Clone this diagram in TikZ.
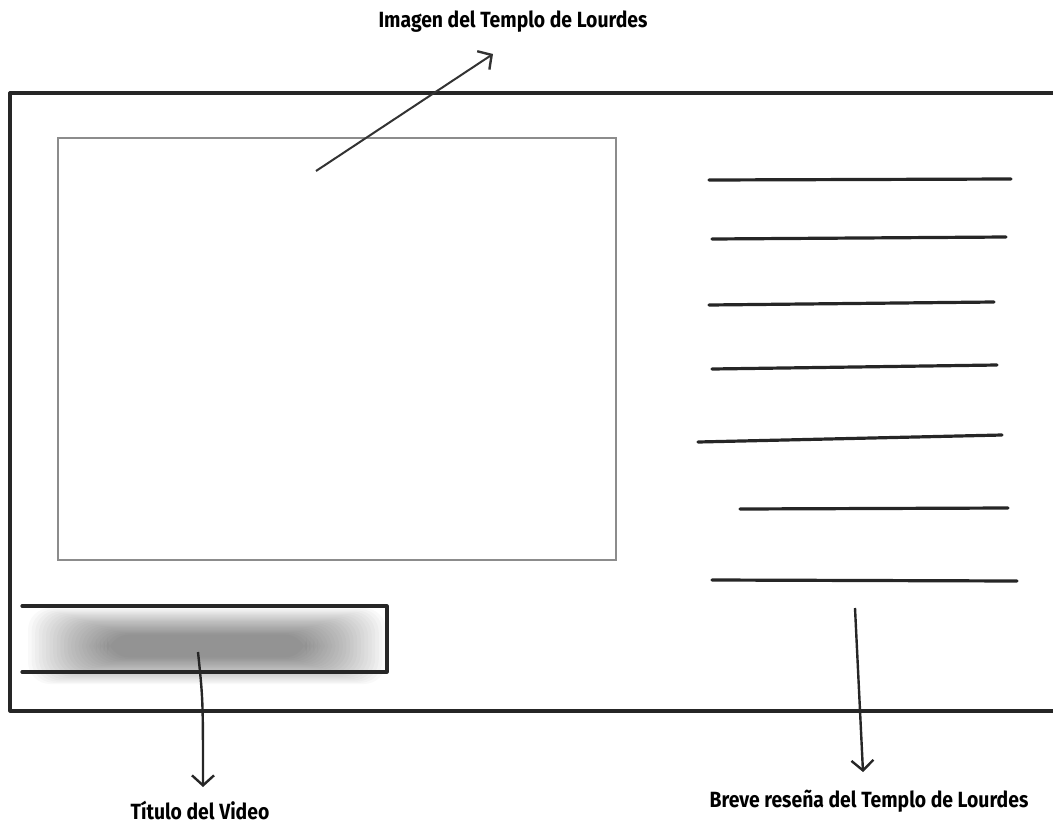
\documentclass[tikz,border=0pt]{standalone}
\usepackage{fontspec}
\setmainfont{Fira Sans}[FakeStretch=0.88]
\usetikzlibrary{arrows.meta}
\begin{document}
\begin{tikzpicture}[x=1pt,y=-1pt,
  frame/.style={line width=3.2pt,black!85,line cap=round,line join=round},
  textline/.style={line width=3.2pt,black!85,line cap=round},
  imgbox/.style={draw=black!45,line width=1.5pt},
  callout/.style={line width=2.4pt,black!85,-{Straight Barb[length=10pt,width=22pt,line width=2.4pt]}},
  lbl/.style={font=\bfseries\fontsize{22}{26}\selectfont,inner sep=0pt,anchor=base}]
\useasboundingbox (0,0) rectangle (1053,825);
% outer frame (open on the right)
\draw[frame] (1053,93) -- (10,93) -- (10,711) -- (1053,711);
% image placeholder
\node[imgbox,minimum width=558pt,minimum height=422pt,inner sep=0pt,anchor=north west] (img) at (57,137) {};
% title bar shadow
\foreach \i in {0,...,22}{
  \fill[black,opacity=0.024,rounded corners=22pt] (28+\i*3.6,608+\i*1.2) rectangle (386-\i*3.6,684-\i*1.2);
}
\draw[frame] (22,606) -- (387,606) -- (387,672) -- (22,672);
\coordinate (bar) at (198,652);
% text lines
\draw[textline] (709,180) -- (1011,179);
\draw[textline] (712,239) -- (1006,237);
\draw[textline] (709,305) -- (994,302);
\draw[textline] (712,369) -- (997,365);
\draw[textline] (698,442) -- (1002,435);
\draw[textline] (740,509) -- (1008,508);
\draw[textline] (712,580) -- (1017,581);
\coordinate (txt) at (855,608);
\coordinate (imgpt) at (316,171);
% labels
\node[lbl] (limg) at (513,27) {Imagen del Templo de Lourdes};
\node[lbl] (ltit) at (200,819) {Título del Video};
\node[lbl] (ltxt) at (869,807) {Breve reseña del Templo de Lourdes};
% callouts
\draw[callout,line width=2pt,draw=black!80] (imgpt) -- (493,54);
\draw[callout] (bar) .. controls (203,700) .. (203,787);
\draw[callout] (txt) -- (863,772);
\end{tikzpicture}
\end{document}
